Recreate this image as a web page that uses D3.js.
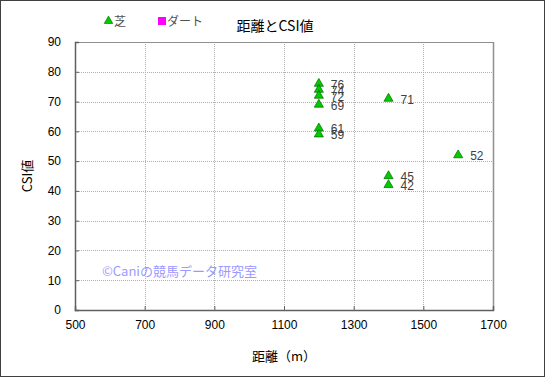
<!DOCTYPE html>
<html>
<head>
<meta charset="utf-8">
<script src="https://cdn.jsdelivr.net/npm/d3@7"></script>
<style>
  body { margin: 0; background: #fff; }
  svg text { font-family: "Noto Sans CJK JP", "DejaVu Sans", sans-serif; }
</style>
</head>
<body>
<div id="chart"></div>
<script>
(function () {
  // データ（芝）
  const distance = [1200, 1200, 1200, 1200, 1200, 1200, 1400, 1400, 1400, 1600];
  const csi = [76, 74, 72, 69, 61, 59, 71, 45, 42, 52];
  const xTicks = [500, 700, 900, 1100, 1300, 1500, 1700];
  const yTicks = [0, 10, 20, 30, 40, 50, 60, 70, 80, 90];
  const legendNames = ["芝", "ダート"];

  const W = 545, H = 377;
  const margin = { top: 42, right: 52, bottom: 67, left: 75 };
  const innerWidth = W - margin.left - margin.right;
  const innerHeight = H - margin.top - margin.bottom;

  const svg = d3.select("#chart").append("svg")
    .attr("width", W)
    .attr("height", H);

  // 外枠
  svg.append("rect")
    .attr("x", 0.5).attr("y", 0.5)
    .attr("width", W - 1).attr("height", H - 1)
    .attr("fill", "#fff")
    .attr("stroke", "#404040");

  const plot = svg.append("g")
    .attr("transform", `translate(${margin.left},${margin.top})`);

  const x = d3.scaleLinear().domain([500, 1700]).range([0, innerWidth]);
  const y = d3.scaleLinear().domain([0, 90]).range([innerHeight, 0]);

  // グリッド
  plot.append("g")
    .selectAll("line")
    .data(xTicks.slice(1, -1))
    .join("line")
    .attr("x1", d => Math.round(x(d)) + 0.5).attr("x2", d => Math.round(x(d)) + 0.5)
    .attr("y1", 0).attr("y2", innerHeight)
    .attr("stroke", "#b0b0b0")
    .attr("stroke-dasharray", "1,1");

  plot.append("g")
    .selectAll("line")
    .data(yTicks.slice(1, -1))
    .join("line")
    .attr("x1", 0).attr("x2", innerWidth)
    .attr("y1", d => Math.round(y(d)) + 0.5).attr("y2", d => Math.round(y(d)) + 0.5)
    .attr("stroke", "#b0b0b0")
    .attr("stroke-dasharray", "1,1");

  // 枠
  plot.append("line")
    .attr("x1", 0).attr("x2", innerWidth).attr("y1", 0.5).attr("y2", 0.5)
    .attr("stroke", "#909090");
  plot.append("line")
    .attr("x1", innerWidth + 0.5).attr("x2", innerWidth + 0.5).attr("y1", 0).attr("y2", innerHeight)
    .attr("stroke", "#909090").attr("stroke-width", 1.5);

  // 軸
  plot.append("g")
    .attr("transform", `translate(0,${innerHeight})`)
    .call(d3.axisBottom(x).tickValues(xTicks).tickSize(-4).tickPadding(10).tickFormat(d3.format("d")))
    .call(g => g.select(".domain").attr("stroke", "#606060").attr("stroke-width", 1.5))
    .call(g => g.selectAll(".tick line").attr("stroke", "#606060"))
    .call(g => g.selectAll("text").attr("fill", "#000").style("font-size", "12px")
      .style("font-family", "'Liberation Sans', Arial, sans-serif"));

  plot.append("g")
    .call(d3.axisLeft(y).tickValues(yTicks).tickSize(-4).tickPadding(14))
    .call(g => g.select(".domain").attr("stroke", "#606060").attr("stroke-width", 1.5))
    .call(g => g.selectAll(".tick line").attr("stroke", "#606060"))
    .call(g => g.selectAll("text").attr("fill", "#000").style("font-size", "12px")
      .style("font-family", "'Liberation Sans', Arial, sans-serif"));

  // 透かし
  plot.append("text")
    .attr("x", 27)
    .attr("y", 234)
    .attr("fill", "#9a9aff")
    .style("font-size", "13px")
    .text("©Caniの競馬データ研究室");

  // 点
  const tri = d3.symbol().type(d3.symbolTriangle).size(36);
  const pts = distance.map((d, i) => ({ x: d, y: csi[i] }));

  plot.selectAll(".pt")
    .data(pts)
    .join("path")
    .attr("class", "pt")
    .attr("d", tri)
    .attr("transform", d => `translate(${x(d.x)},${y(d.y)})`)
    .attr("fill", "#00cc00")
    .attr("stroke", "#006600")
    .attr("stroke-width", 0.7);

  plot.selectAll(".lbl")
    .data(pts)
    .join("text")
    .attr("class", "lbl")
    .attr("x", d => x(d.x) + 12)
    .attr("y", d => y(d.y) + 5)
    .attr("fill", "#404040")
    .style("font-size", "12px")
    .style("font-family", "'Liberation Sans', Arial, sans-serif")
    .text(d => d.y);

  // 凡例
  svg.append("path")
    .attr("d", d3.symbol().type(d3.symbolTriangle).size(32))
    .attr("transform", "translate(108.5,21)")
    .attr("fill", "#00cc00")
    .attr("stroke", "#006600")
    .attr("stroke-width", 0.6);
  svg.append("text")
    .attr("x", 114).attr("y", 26)
    .attr("fill", "#505050")
    .style("font-size", "12px")
    .text(legendNames[0]);

  svg.append("rect")
    .attr("x", 158).attr("y", 17).attr("width", 8).attr("height", 8)
    .attr("fill", "#ff00ff");
  svg.append("text")
    .attr("x", 167).attr("y", 26)
    .attr("fill", "#505050")
    .style("font-size", "12px")
    .text(legendNames[1]);

  // タイトル
  svg.append("text")
    .attr("x", 275).attr("y", 31)
    .attr("text-anchor", "middle")
    .attr("fill", "#000")
    .style("font-size", "14px")
    .text("距離とCSI値");

  svg.append("text")
    .attr("x", margin.left + innerWidth / 2)
    .attr("y", 361)
    .attr("text-anchor", "middle")
    .attr("fill", "#000")
    .style("font-size", "13px")
    .text("距離（m）");

  svg.append("text")
    .attr("transform", `translate(32,${margin.top + innerHeight / 2}) rotate(-90)`)
    .attr("text-anchor", "middle")
    .attr("fill", "#000")
    .style("font-size", "13px")
    .text("CSI値");
})();
</script>
</body>
</html>
